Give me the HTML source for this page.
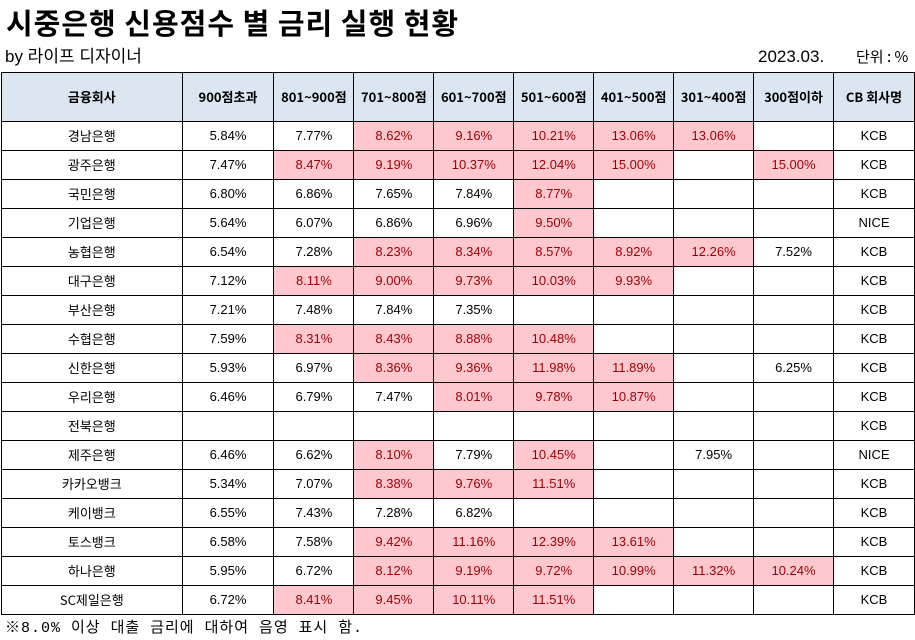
<!DOCTYPE html>
<html><head><meta charset="utf-8">
<style>
body{margin:0;width:915px;height:639px;background:#fff;position:relative;overflow:hidden;font-family:"Liberation Sans","Noto Sans CJK KR",sans-serif;color:#000}
#title{position:absolute;left:6px;top:2px;font-size:29px;font-weight:bold;letter-spacing:1px;font-family:"Noto Sans CJK KR",sans-serif;line-height:40px}
#by{position:absolute;left:5px;top:44px;font-size:17px;line-height:26px;font-family:"Liberation Sans","Noto Sans CJK KR",sans-serif}
#date{position:absolute;left:758px;top:44px;font-size:17px;line-height:26px}
#unit{position:absolute;left:856px;top:44px;font-size:15px;line-height:26px;font-family:"Noto Sans CJK KR",sans-serif}
table{position:absolute;left:1px;top:72px;border-collapse:collapse;table-layout:fixed}
td,th{border:1.5px solid #000;padding:0;text-align:center;font-size:13px;overflow:hidden;white-space:nowrap}
th{height:47.5px;background:#dce6f1;font-weight:bold;font-family:"Noto Sans CJK KR",sans-serif}
td{height:28px}
td.hi{background:#ffc7ce;color:#9c0006}
td.nm{font-family:"Noto Sans CJK KR",sans-serif}
#note{position:absolute;left:5px;top:618px;font-size:15px;line-height:22px;font-family:"Liberation Mono","Noto Sans CJK KR",monospace;letter-spacing:1px}
</style></head>
<body>
<div id="title">시중은행 신용점수 별 금리 실행 현황</div>
<div id="by">by 라이프 디자이너</div>
<div id="date">2023.03.</div>
<div id="unit">단위 : %</div>
<table id="tbl">
<colgroup><col style="width:181px"><col style="width:92px"><col style="width:80px"><col style="width:80px"><col style="width:80px"><col style="width:80px"><col style="width:80px"><col style="width:80px"><col style="width:80px"><col style="width:81px"></colgroup>
<thead><tr id="hdr"></tr></thead>
<tbody id="body"></tbody>
</table>
<div id="note">※8.0% 이상 대출 금리에 대하여 음영 표시 함.</div>
<script>
const headers=["금융회사","900점초과","801~900점","701~800점","601~700점","501~600점","401~500점","301~400점","300점이하","CB 회사명"];
const banks=["경남은행","광주은행","국민은행","기업은행","농협은행","대구은행","부산은행","수협은행","신한은행","우리은행","전북은행","제주은행","카카오뱅크","케이뱅크","토스뱅크","하나은행","SC제일은행"];
const rates=[
[5.84,7.77,8.62,9.16,10.21,13.06,13.06,null],
[7.47,8.47,9.19,10.37,12.04,15.00,null,15.00],
[6.80,6.86,7.65,7.84,8.77,null,null,null],
[5.64,6.07,6.86,6.96,9.50,null,null,null],
[6.54,7.28,8.23,8.34,8.57,8.92,12.26,7.52],
[7.12,8.11,9.00,9.73,10.03,9.93,null,null],
[7.21,7.48,7.84,7.35,null,null,null,null],
[7.59,8.31,8.43,8.88,10.48,null,null,null],
[5.93,6.97,8.36,9.36,11.98,11.89,null,6.25],
[6.46,6.79,7.47,8.01,9.78,10.87,null,null],
[null,null,null,null,null,null,null,null],
[6.46,6.62,8.10,7.79,10.45,null,7.95,null],
[5.34,7.07,8.38,9.76,11.51,null,null,null],
[6.55,7.43,7.28,6.82,null,null,null,null],
[6.58,7.58,9.42,11.16,12.39,13.61,null,null],
[5.95,6.72,8.12,9.19,9.72,10.99,11.32,10.24],
[6.72,8.41,9.45,10.11,11.51,null,null,null]];
const cb=["KCB","KCB","KCB","NICE","KCB","KCB","KCB","KCB","KCB","KCB","KCB","NICE","KCB","KCB","KCB","KCB","KCB"];
const hdr=document.getElementById('hdr');
headers.forEach(h=>{const th=document.createElement('th');th.textContent=h;


hdr.appendChild(th);});
const body=document.getElementById('body');
banks.forEach((b,i)=>{const tr=document.createElement('tr');


let td=document.createElement('td');td.className='nm';td.textContent=b;


tr.appendChild(td);
rates[i].forEach(v=>{const c=document.createElement('td');


if(v!==null){c.textContent=v.toFixed(2)+'%';if(v>=8)c.className='hi';}
tr.appendChild(c);});
const c2=document.createElement('td');c2.textContent=cb[i];


tr.appendChild(c2);
body.appendChild(tr);});
</script>
</body></html>
